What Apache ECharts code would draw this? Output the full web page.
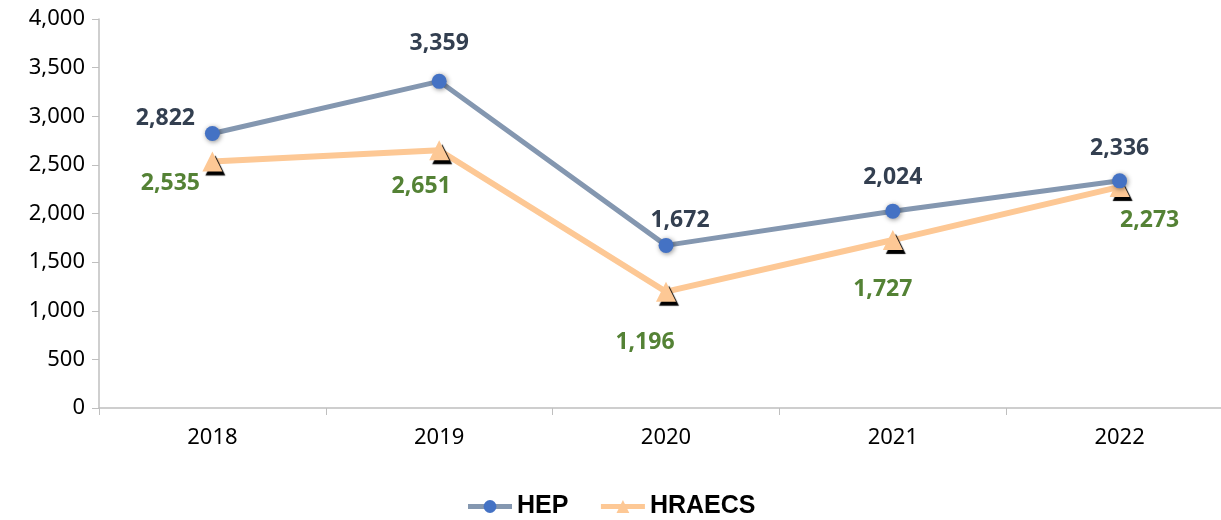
<!DOCTYPE html>
<html>
<head>
<meta charset="utf-8">
<script src="https://cdn.jsdelivr.net/npm/echarts@6/dist/echarts.min.js"></script>
<style>
  html, body { margin: 0; padding: 0; background: #fff; overflow: hidden; }
  #chart { width: 1221px; height: 520px; }
</style>
</head>
<body>
<div id="chart"></div>
<script>
const years = ['2018', '2019', '2020', '2021', '2022'];
const hepValues = [2822, 3359, 1672, 2024, 2336];
const hraecsValues = [2535, 2651, 1196, 1727, 2273];
const yTicks = [0, 500, 1000, 1500, 2000, 2500, 3000, 3500, 4000];

const chart = echarts.init(document.getElementById('chart'));

// label offsets from each point (centre of text relative to marker)
const hepOffsets = [[-47, -15], [0, -38], [14, -25], [0, -34], [0, -32]];
const hraOffsets = [[-42, 22], [-18, 36], [-21, 51], [-10, 49], [30, 34]];

const fmt = v => v.toLocaleString('en-US');

const hepData = hepValues.map((v, i) => ({
  value: v,
  label: { offset: hepOffsets[i] }
}));
const hraData = hraecsValues.map((v, i) => ({
  value: v,
  label: { offset: hraOffsets[i] }
}));

const option = {
  animation: false,
  // plot runs past the right edge of the window, like the source image
  grid: { left: 99, width: 1134, top: 19, bottom: 112, outerBoundsMode: 'none', containLabel: false },
  legend: {
    bottom: -4,
    left: 'center',
    itemWidth: 44,
    itemHeight: 16,
    itemGap: 30,
    lineStyle: { width: 5 },
    textStyle: { fontFamily: 'Liberation Sans', fontWeight: 'bold', fontSize: 25, color: '#000' },
    data: ['HEP', 'HRAECS']
  },
  xAxis: {
    type: 'category',
    data: years,
    boundaryGap: true,
    axisLine: { lineStyle: { color: '#bfbfbf', width: 1.5 } },
    axisTick: { show: true, length: 7, lineStyle: { color: '#bfbfbf' } },
    axisLabel: { margin: 19, fontFamily: 'Noto Sans', fontSize: 22, color: '#000' }
  },
  yAxis: {
    type: 'value',
    min: 0,
    max: 4000,
    interval: 500,
    splitLine: { show: false },
    axisLine: { show: true, lineStyle: { color: '#bfbfbf', width: 1.5 } },
    axisTick: { show: true, length: 7, lineStyle: { color: '#bfbfbf' } },
    axisLabel: {
      margin: 14,
      fontFamily: 'Noto Sans',
      fontSize: 22,
      color: '#000',
      formatter: v => yTicks.includes(v) ? fmt(v) : ''
    }
  },
  series: [
    {
      name: 'HRAECS',
      type: 'line',
      data: hraData,
      z: 2,
      symbol: 'triangle',
      symbolSize: 20,
      lineStyle: { color: '#fdc895', width: 6 },
      itemStyle: {
        color: '#fdc895',
        shadowColor: '#000',
        shadowOffsetX: 3,
        shadowOffsetY: 4,
        shadowBlur: 1
      },
      label: {
        show: true,
        position: 'inside',
        formatter: p => fmt(p.value),
        fontFamily: 'Noto Sans',
        fontWeight: 'bold',
        fontSize: 23,
        color: '#548235'
      }
    },
    {
      name: 'HEP',
      type: 'line',
      data: hepData,
      z: 3,
      symbol: 'circle',
      symbolSize: 15,
      lineStyle: { color: '#8497b0', width: 5 },
      itemStyle: {
        color: '#4472c4',
        shadowColor: 'rgba(0,0,0,0.45)',
        shadowBlur: 5,
        shadowOffsetX: 1,
        shadowOffsetY: 1
      },
      label: {
        show: true,
        position: 'inside',
        formatter: p => fmt(p.value),
        fontFamily: 'Noto Sans',
        fontWeight: 'bold',
        fontSize: 23,
        color: '#333f50'
      }
    }
  ]
};

chart.setOption(option);
</script>
</body>
</html>
